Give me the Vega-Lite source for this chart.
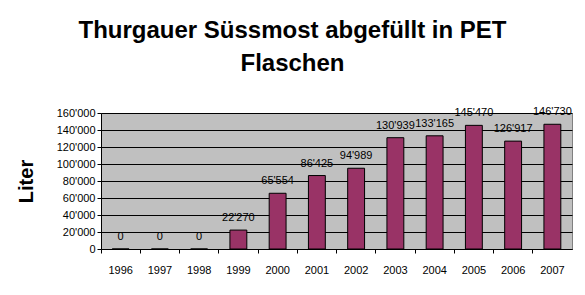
{
  "$schema": "https://vega.github.io/schema/vega-lite/v6.json",
  "width": 471,
  "height": 136,
  "autosize": "none",
  "padding": {"left": 101, "top": 113, "right": 13, "bottom": 46},
  "background": "white",
  "title": {
    "text": ["Thurgauer Süssmost abgefüllt in PET", "Flaschen"],
    "font": "Liberation Sans",
    "fontSize": 24,
    "fontWeight": "bold",
    "color": "black",
    "anchor": "middle",
    "frame": "group",
    "dx": -44,
    "lineHeight": 33,
    "offset": 30
  },
  "data": {
    "values": [
      {"jahr": "1996", "liter": 0},
      {"jahr": "1997", "liter": 0},
      {"jahr": "1998", "liter": 0},
      {"jahr": "1999", "liter": 22270},
      {"jahr": "2000", "liter": 65554},
      {"jahr": "2001", "liter": 86425},
      {"jahr": "2002", "liter": 94989},
      {"jahr": "2003", "liter": 130939},
      {"jahr": "2004", "liter": 133165},
      {"jahr": "2005", "liter": 145470},
      {"jahr": "2006", "liter": 126917},
      {"jahr": "2007", "liter": 146730}
    ]
  },
  "encoding": {
    "x": {
      "field": "jahr",
      "type": "ordinal",
      "scale": {"paddingInner": 0, "paddingOuter": 0},
      "axis": {
        "title": null,
        "labelAngle": 0,
        "labelFont": "Liberation Sans",
        "labelFontSize": 11,
        "labelColor": "black",
        "labelPadding": 11,
        "bandPosition": 0,
        "tickColor": "black",
        "tickSize": 4,
        "domainColor": "black",
        "grid": false
      }
    },
    "y": {
      "field": "liter",
      "type": "quantitative",
      "scale": {"domain": [0, 160000], "nice": false},
      "axis": {
        "title": "Liter",
        "titleFont": "Liberation Sans",
        "titleFontSize": 20,
        "titleFontWeight": "bold",
        "titleColor": "black",
        "titlePadding": 20,
        "values": [0, 20000, 40000, 60000, 80000, 100000, 120000, 140000, 160000],
        "format": ",d",
        "labelFont": "Liberation Sans",
        "labelFontSize": 11,
        "labelColor": "black",
        "labelPadding": 2,
        "tickColor": "black",
        "tickSize": 4,
        "domainColor": "black",
        "grid": true,
        "gridColor": "black",
        "gridOpacity": 1
      }
    }
  },
  "layer": [
    {
      "mark": {"type": "bar", "width": {"band": 0.43}, "color": "#993366", "stroke": "black", "strokeWidth": 1}
    },
    {
      "mark": {"type": "text", "font": "Liberation Sans", "fontSize": 11, "color": "black", "baseline": "alphabetic", "dy": -9},
      "encoding": {"text": {"field": "liter", "type": "quantitative", "format": ",d"}}
    }
  ],
  "config": {
    "locale": {"number": {"decimal": ".", "thousands": "'", "grouping": [3], "currency": ["", ""]}},
    "view": {"fill": "#C0C0C0", "stroke": "#808080"}
  }
}
